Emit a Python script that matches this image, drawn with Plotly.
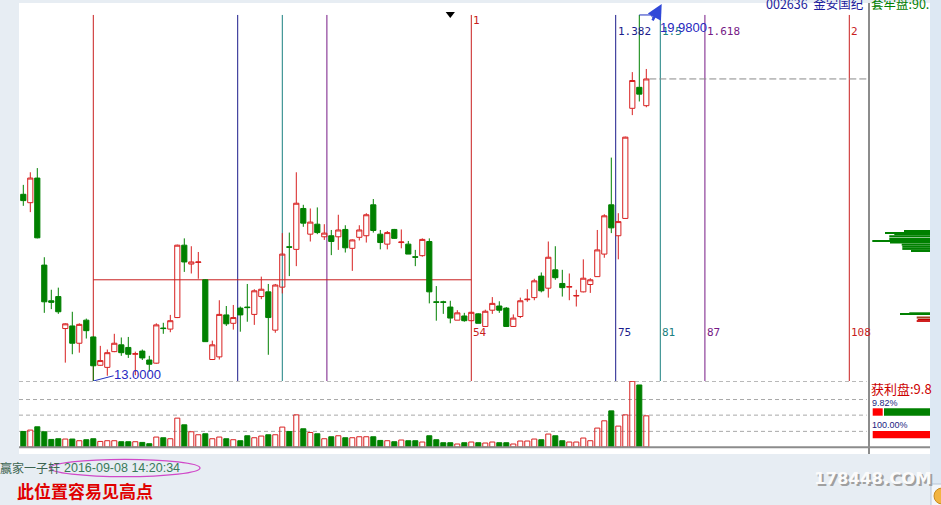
import plotly.graph_objects as go

# ---------------- data ----------------
bar_index = list(range(-10, 80))

open_ = [16.56, 16.40, 16.87, 15.21, 14.53, 14.61, 14.00, 14.05, 13.72, 14.16,
         13.84, 13.30, 13.26, 13.56, 13.69, 13.64, 13.51, 13.57, 13.40, 13.34,
         14.01, 13.99, 14.21, 15.59, 15.23, 15.26, 14.93, 13.41, 13.46, 14.26,
         14.10, 14.39, 14.41, 14.27, 14.61, 14.70, 13.97, 14.79, 15.56, 15.51,
         16.29, 15.80, 15.99, 15.75, 15.77, 15.75, 15.89, 15.53, 15.74, 15.77,
         16.36, 15.80, 15.61, 15.89, 15.64, 15.61, 15.37, 15.39, 15.66, 14.51,
         14.51, 14.41, 14.16, 14.24, 14.15, 14.28, 14.04, 14.35, 14.43, 14.39,
         14.04, 14.23, 14.55, 14.59, 15.00, 14.77, 15.12, 14.86, 14.79, 14.62,
         14.70, 14.84, 14.99, 15.42, 16.36, 15.77, 16.10, 18.20, 18.60, 18.25]
high = [16.74, 16.98, 17.06, 15.36, 14.74, 14.78, 14.10, 14.32, 14.10, 14.19,
        13.85, 13.67, 13.60, 13.90, 13.83, 13.84, 13.56, 13.60, 13.48, 14.10,
        14.11, 14.26, 15.60, 15.72, 15.57, 15.46, 14.94, 13.77, 14.54, 14.43,
        14.45, 14.42, 14.85, 14.75, 14.99, 14.85, 14.85, 15.82, 15.83, 16.98,
        16.36, 16.29, 16.31, 15.99, 15.88, 16.17, 15.97, 15.70, 15.97, 16.20,
        16.47, 15.88, 15.86, 15.90, 15.89, 15.67, 15.50, 15.72, 15.72, 14.81,
        14.53, 14.53, 14.35, 14.30, 14.32, 14.29, 14.36, 14.60, 14.52, 14.41,
        14.27, 14.59, 14.75, 14.95, 15.07, 15.66, 15.57, 15.12, 15.05, 14.74,
        15.32, 14.96, 15.88, 16.18, 17.26, 16.20, 17.66, 18.89, 19.98, 18.95]
low = [16.34, 16.22, 15.72, 14.30, 14.37, 14.28, 13.35, 13.51, 13.54, 13.81,
       13.00, 13.29, 13.10, 13.55, 13.48, 13.44, 13.11, 13.40, 13.18, 13.33,
       13.90, 13.93, 14.20, 15.08, 15.05, 14.95, 13.75, 13.40, 13.41, 14.05,
       13.98, 13.94, 14.13, 14.07, 14.56, 13.50, 13.92, 14.67, 15.00, 15.19,
       15.94, 15.66, 15.80, 15.69, 15.40, 15.50, 15.45, 15.10, 15.68, 15.64,
       15.83, 15.51, 15.51, 15.71, 15.53, 15.42, 15.19, 15.37, 14.48, 14.15,
       14.28, 14.10, 14.16, 14.13, 14.14, 14.10, 14.03, 14.28, 14.30, 14.03,
       14.03, 14.20, 14.51, 14.54, 14.69, 14.59, 14.93, 14.61, 14.54, 14.42,
       14.69, 14.68, 14.99, 15.35, 15.82, 15.32, 16.10, 18.07, 18.33, 18.22]
close = [16.44, 16.87, 15.73, 14.51, 14.50, 14.32, 14.09, 13.72, 14.08, 13.96,
         13.29, 13.39, 13.54, 13.72, 13.54, 13.51, 13.52, 13.44, 13.32, 14.07,
         14.00, 14.15, 15.59, 15.27, 15.27, 15.27, 13.75, 13.69, 14.27, 14.09,
         14.21, 14.26, 14.40, 14.72, 14.75, 14.21, 14.83, 15.42, 15.55, 16.39,
         16.01, 16.03, 15.83, 15.82, 15.66, 15.88, 15.54, 15.69, 15.88, 16.17,
         15.87, 15.64, 15.83, 15.72, 15.65, 15.42, 15.36, 15.70, 14.70, 14.50,
         14.50, 14.20, 14.30, 14.15, 14.31, 14.10, 14.33, 14.48, 14.35, 14.04,
         14.20, 14.53, 14.56, 14.91, 14.72, 15.36, 14.97, 14.78, 14.80, 14.63,
         14.96, 14.93, 15.50, 16.15, 15.92, 16.04, 17.65, 18.73, 18.47, 18.76]
volume = [15.6, 17.0, 20.3, 15.3, 7.6, 8.3, 8.0, 8.0, 6.3, 7.3,
          8.3, 5.6, 6.3, 6.3, 5.3, 5.3, 5.3, 4.6, 3.3, 10.0,
          9.3, 8.3, 29.0, 22.3, 15.3, 12.3, 13.3, 8.3, 10.0, 8.3,
          7.3, 6.3, 11.3, 9.3, 11.0, 12.3, 12.3, 20.0, 15.6, 32.3,
          18.3, 14.6, 13.3, 8.3, 10.3, 11.3, 9.3, 9.3, 10.3, 10.3,
          10.3, 6.6, 6.3, 5.3, 7.0, 6.3, 6.3, 5.0, 11.3, 7.3,
          4.3, 4.3, 3.0, 4.3, 5.0, 4.3, 4.0, 5.0, 4.3, 4.3,
          3.0, 6.0, 6.0, 8.0, 7.3, 13.0, 11.3, 6.3, 5.0, 5.0,
          9.0, 6.3, 19.0, 26.3, 36.3, 21.0, 32.3, 66.0, 62.3, 31.3]

# Fibonacci time-zone tool
fib_start = 0
fib_span = 54
fib_ratios = [0, 0.382, 0.5, 0.618, 1, 1.382, 1.5, 1.618, 2]
fib_top_labels = ["", "", "", "", "1", "1.382", "1.5", "1.618", "2"]
fib_colors = ["#c81e1e", "#1c1c8c", "#1a8080", "#761a86", "#c81e1e",
              "#1c1c8c", "#1a8080", "#761a86", "#c81e1e"]
fib_low = 13.00
fib_high = 19.98
fib_hline = 14.93

# chip distribution (price level, length)
chip_price = [15.87, 15.83, 15.80, 15.76, 15.71, 15.67, 15.64, 15.60, 15.56,
              15.52, 15.48, 14.29, 14.27, 14.21, 14.17, 14.14]
chip_len = [26, 45, 35.7, 40.7, 40.7, 57.7, 40, 28.3, 27.7, 27.7, 19,
            20.7, 30, 13.3, 12.3, 13.3]
chip_colors = ["#008000"] * 11 + ["#008000", "#008000", "#a04020", "#c00000", "#d02020"]
chip_thick = [0.02, 0.02, 0.04, 0.04, 0.04, 0.02, 0.04, 0.04, 0.04, 0.04, 0.03,
              0.04, 0.02, 0.04, 0.02, 0.02]

marker_x = [51]
marker_y = [20.0]

RED = "#d82020"
GREEN = "#008000"

# ---------------- layout helpers (pixel -> paper) ----------------
W, H = 941, 505
ML, MR, MT, MB = 19, 11, 3, 58
PW = W - ML - MR
PH = H - MT - MB


def pxx(px):
    return (px - ML) / PW


def pxy(py):
    return (H - MB - py) / PH


vol_top = pxy(381)
main_xdom = pxx(868)

fig = go.Figure()

fig.add_trace(go.Candlestick(
    x=bar_index, open=open_, high=high, low=low, close=close,
    increasing=dict(line=dict(color=RED, width=1), fillcolor="rgba(255,255,255,0)"),
    decreasing=dict(line=dict(color=GREEN, width=1), fillcolor=GREEN),
    whiskerwidth=0, hoverinfo="skip", showlegend=False,
    xaxis="x", yaxis="y"))

up = [c >= o for o, c in zip(open_, close)]
fig.add_trace(go.Bar(
    x=bar_index, y=volume, width=0.72,
    marker=dict(color=["rgba(255,255,255,0)" if u else GREEN for u in up],
                line=dict(color=[RED if u else GREEN for u in up], width=1)),
    hoverinfo="skip", showlegend=False, xaxis="x", yaxis="y2"))

fig.add_trace(go.Bar(
    x=chip_len, y=chip_price, orientation="h", width=chip_thick,
    marker=dict(color=chip_colors, line=dict(width=0)),
    hoverinfo="skip", showlegend=False, xaxis="x3", yaxis="y"))

# low / high markers
fig.add_trace(go.Scatter(x=[fib_start, fib_start + 2.9], y=[fib_low, 13.10], mode="lines",
                         line=dict(color="#2030c0", width=1), cliponaxis=False,
                         hoverinfo="skip", showlegend=False))
fig.add_trace(go.Scatter(x=[78, 79.65, 80.0], y=[fib_high, fib_high, 19.92], mode="lines",
                         line=dict(color="#2030c0", width=1), cliponaxis=False,
                         hoverinfo="skip", showlegend=False))
fig.add_trace(go.Scatter(x=marker_x, y=marker_y, mode="markers",
                         marker=dict(symbol="triangle-down", size=8, color="black"),
                         cliponaxis=False, hoverinfo="skip", showlegend=False))

shapes = []
# white working area
shapes.append(dict(type="rect", xref="paper", yref="paper", x0=0, x1=1,
                   y0=pxy(454), y1=1, fillcolor="white", line=dict(width=0), layer="below"))
# light blue strip at far right
shapes.append(dict(type="rect", xref="paper", yref="paper", x0=1, x1=pxx(941),
                   y0=pxy(505), y1=pxy(0), fillcolor="#dde8f3", line=dict(width=0), layer="below"))
# fib vertical lines
fib_pos = [fib_start + r * fib_span for r in fib_ratios]
for p, c in zip(fib_pos, fib_colors):
    shapes.append(dict(type="line", xref="x", yref="y", x0=p, x1=p, y0=fib_low, y1=fib_high,
                       line=dict(color=c, width=1), layer="below"))
shapes.append(dict(type="line", xref="x", yref="y", x0=fib_start, x1=fib_start + fib_span,
                   y0=fib_hline, y1=fib_hline, line=dict(color=fib_colors[0], width=1), layer="below"))
# current price line
shapes.append(dict(type="line", xref="x", yref="y", x0=79.43, x1=110.5,
                   y0=close[-1], y1=close[-1], line=dict(color="#8a8a8a", width=1, dash="7px,3px"),
                   layer="below"))
# volume dashed grid
for v in [15.7, 32.0, 47.7, 66.0]:
    shapes.append(dict(type="line", xref="x domain", yref="y2", x0=0, x1=0.9985, y0=v, y1=v,
                       line=dict(color="#a8a8a8", width=1, dash="4px,3px"), layer="below"))
# borders
shapes.append(dict(type="line", xref="paper", yref="paper", x0=pxx(869), x1=pxx(869),
                   y0=pxy(454), y1=1, line=dict(color="#8c8c8c", width=2)))
shapes.append(dict(type="line", xref="paper", yref="paper", x0=0, x1=1,
                   y0=pxy(447.3), y1=pxy(447.3), line=dict(color="#8c8c8c", width=2)))
# profit bars in side panel
shapes.append(dict(type="rect", xref="paper", yref="paper", x0=pxx(872.7), x1=pxx(882.7),
                   y0=pxy(415.7), y1=pxy(408.3), fillcolor="#ff0000", line=dict(width=0)))
shapes.append(dict(type="rect", xref="paper", yref="paper", x0=pxx(884), x1=pxx(930),
                   y0=pxy(415.7), y1=pxy(408.3), fillcolor="#008000", line=dict(width=0)))
shapes.append(dict(type="rect", xref="paper", yref="paper", x0=pxx(872.7), x1=pxx(930),
                   y0=pxy(438.3), y1=pxy(431), fillcolor="#ff0000", line=dict(width=0)))
# ellipse around timestamp
shapes.append(dict(type="circle", xref="paper", yref="paper", x0=pxx(50), x1=pxx(200),
                   y0=pxy(476.7), y1=pxy(459.3), line=dict(color="#d048c8", width=1.3)))
# small icon at bottom-right corner
shapes.append(dict(type="rect", xref="paper", yref="paper", x0=pxx(931), x1=pxx(950),
                   y0=pxy(510), y1=pxy(484), fillcolor="#f3f6fa", line=dict(color="#b9c6d6", width=1)))
shapes.append(dict(type="circle", xref="paper", yref="paper", x0=pxx(934), x1=pxx(950),
                   y0=pxy(504), y1=pxy(488), fillcolor="#f2b440", line=dict(color="#c88a20", width=1)))

ann = []
MONO = "DejaVu Sans Mono"
for p, lab, c in zip(fib_pos, fib_top_labels, fib_colors):
    if lab:
        ann.append(dict(x=p, y=19.865 if lab == "1" else 19.674, xref="x", yref="y", text=lab,
                        showarrow=False, xanchor="left", yanchor="middle",
                        font=dict(family=MONO, size=11, color=c)))
for p, c in zip(fib_pos[4:], fib_colors[4:]):
    ann.append(dict(x=p, y=13.925, xref="x", yref="y", text=str(round(p)),
                    showarrow=False, xanchor="left", yanchor="middle",
                    font=dict(family=MONO, size=11, color=c)))
ann.append(dict(x=fib_start + 2.7, y=13.115, xref="x", yref="y", text="%.4f" % fib_low,
                showarrow=False, xanchor="left", yanchor="middle",
                font=dict(family="Liberation Sans", size=13, color="#2828c0")))
ann.append(dict(x=80.6, y=19.75, xref="x", yref="y", text="%.4f" % fib_high,
                showarrow=False, xanchor="left", yanchor="middle",
                font=dict(family="Liberation Sans", size=13, color="#2828c0")))
ann.append(dict(x=81.2, y=20.19, xref="x", yref="y", text="", showarrow=True,
                ax=-10, ay=18, arrowhead=2, arrowsize=1.2, arrowwidth=2.5, arrowcolor="#3048d8"))


def txt(px, py, text, color, size, family="Noto Sans CJK SC", xanchor="left"):
    ann.append(dict(x=pxx(px), y=pxy(py), xref="paper", yref="paper", text=text,
                    showarrow=False, xanchor=xanchor, yanchor="middle",
                    font=dict(family=family, size=size, color=color)))


txt(764, 4, "002636  金安国纪", "#1c1c9c", 12.5)
txt(869, 4, "套牢盘:90.", "#008000", 12.5)
txt(869, 388, "获利盘:9.8", "#cc0000", 13)
txt(870, 402.7, "9.82%", "#1c1c80", 9, "Liberation Sans")
txt(870, 425.3, "100.00%", "#1c1c80", 9, "Liberation Sans")
txt(-2, 467.5, "赢家一子轩", "#3c6450", 12)
txt(62, 467.5, "2016-09-08 14:20:34", "#3a7a5a", 12.5, "Liberation Sans")
txt(15, 490, "<b>此位置容易见高点</b>", "#e00000", 17)
txt(874.5, 480.5, "<b>178448.COM</b>", "#a0a0a0", 16.5, "DejaVu Sans", "center")
txt(873, 479, "<b>178448.COM</b>", "#fbfbfb", 16.5, "DejaVu Sans", "center")

fig.update_layout(
    width=W, height=H,
    margin=dict(l=ML, r=MR, t=MT, b=MB, pad=0),
    paper_bgcolor="#e7edf3", plot_bgcolor="white",
    boxgap=0.22, boxgroupgap=0.05,
    showlegend=False, hovermode=False,
    xaxis=dict(domain=[0, main_xdom], range=[-10.614, 110.671], visible=False,
               rangeslider=dict(visible=False), anchor="y"),
    yaxis=dict(domain=[vol_top, 1], range=[13.0, 20.208], visible=False, anchor="x"),
    yaxis2=dict(domain=[0, vol_top], range=[0, 66.3], visible=False, anchor="x"),
    xaxis3=dict(domain=[pxx(871), 1], range=[59, 0], visible=False, anchor="y"),
    shapes=shapes, annotations=ann,
)

fig.write_html("out.html", config={"displayModeBar": False},
               post_script="document.body.style.margin='0px';document.body.style.overflow='hidden';")
